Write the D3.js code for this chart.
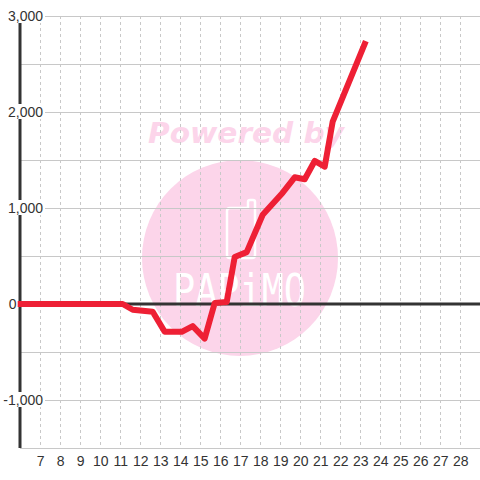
<!DOCTYPE html>
<html><head><meta charset="utf-8">
<script src="https://cdn.jsdelivr.net/npm/d3@7/dist/d3.min.js"></script>
<style>body{margin:0;background:#fff}svg{display:block}</style>
</head><body><svg id="c" width="480" height="480"></svg>
<script>
const times  = [6, 11.1, 11.6, 12.6, 13.2, 14.05, 14.6, 15.2, 15.7, 16.3, 16.7, 17.3, 18.1, 19.1, 19.7, 20.2, 20.7, 21.2, 21.6, 23.2];
const values = [0, 0, -60, -80, -290, -290, -230, -360, 10, 20, 490, 540, 930, 1160, 1320, 1300, 1490, 1430, 1900, 2710];
const xTicks = [7,8,9,10,11,12,13,14,15,16,17,18,19,20,21,22,23,24,25,26,27,28];
const yGrid = [-1500,-1000,-500,0,500,1000,1500,2000,2500,3000];
const yLabels = [-1000,0,1000,2000,3000];

const svg = d3.select("#c");
const x = d3.scaleLinear().domain([6, 29]).range([20.7, 480.7]);
const y = d3.scaleLinear().domain([-1500, 3000]).range([448, 16]);
const font = "'Liberation Sans', Arial, sans-serif";

// watermark
const wm = svg.append("g");
const pink = "#fcd5ea";
wm.append("circle").attr("cx", 240).attr("cy", 258).attr("r", 98).attr("fill", pink);
wm.append("text").attr("x", 148).attr("y", 143).attr("textLength", 196).attr("lengthAdjust","spacingAndGlyphs")
  .attr("font-family", "'DejaVu Sans', sans-serif").attr("font-weight","bold").attr("font-style","italic")
  .attr("font-size", 28).attr("fill", pink).text("Powered by");
wm.append("path").attr("d","M230,208 H248 V202 Q248,200 250,200 H253 Q255,200 255,202 V255 Q255,258 252,258 H230 Q227,258 227,255 V211 Q227,208 230,208 Z")
  .attr("fill","none").attr("stroke","#fff").attr("stroke-width",2.5);
wm.append("text").attr("x", 173).attr("y", 306).attr("textLength", 133).attr("lengthAdjust","spacingAndGlyphs")
  .attr("font-family", "'DejaVu Sans Mono', monospace").attr("font-weight","200")
  .attr("font-size", 44).attr("fill", "#fff").text("PAPiMO");

// horizontal grid
svg.append("g").selectAll("line").data(yGrid).join("line")
  .attr("x1", 20).attr("x2", 480).attr("y1", d => y(d)).attr("y2", d => y(d))
  .attr("stroke", "#c8c8c8").attr("stroke-width", 1).attr("shape-rendering","crispEdges");
// vertical dashed grid
svg.append("g").selectAll("line").data(xTicks.concat([29])).join("line")
  .attr("x1", d => x(d)).attr("x2", d => x(d)).attr("y1", y(3000)).attr("y2", y(-1500))
  .attr("stroke", "#c8c8c8").attr("stroke-width", 1).attr("stroke-dasharray","3,3").attr("shape-rendering","crispEdges");

// zero line
svg.append("line").attr("x1", 20).attr("x2", 480).attr("y1", y(0)).attr("y2", y(0))
  .attr("stroke", "#333").attr("stroke-width", 3);
// y axis line
svg.append("line").attr("x1", 20).attr("x2", 20).attr("y1", y(3000)).attr("y2", y(-1500))
  .attr("stroke", "#333").attr("stroke-width", 3);

// y labels (non-zero ones sit on a white box over the axis)
const fmt = d3.formatLocale({decimal: ".", thousands: ",", grouping: [3], currency: ["", ""], minus: "-"}).format(",");
const yl = svg.append("g").selectAll("g").data(yLabels).join("g");
yl.filter(d => d !== 0).append("rect").attr("x", 2).attr("y", d => y(d) - 8).attr("width", 43).attr("height", 15).attr("fill", "#fff");
yl.append("text").attr("x", d => d === 0 ? 16.5 : 43).attr("y", d => y(d) + 5).attr("text-anchor","end")
  .attr("font-family", font).attr("font-size", 14).attr("fill","#333").text(d => fmt(d));

// x labels
svg.append("g").selectAll("text").data(xTicks).join("text")
  .attr("x", d => x(d)).attr("y", 466).attr("text-anchor","middle")
  .attr("font-family", font).attr("font-size", 14).attr("fill","#333").text(d => d);

// data line
const pts = times.map((t,i) => [t, values[i]]);
svg.append("path").datum(pts)
  .attr("d", d3.line().x(d => x(d[0])).y(d => y(d[1])))
  .attr("fill","none").attr("stroke","#ee2035").attr("stroke-width",6)
  .attr("stroke-linejoin","round").attr("stroke-linecap","square");
</script></body></html>
